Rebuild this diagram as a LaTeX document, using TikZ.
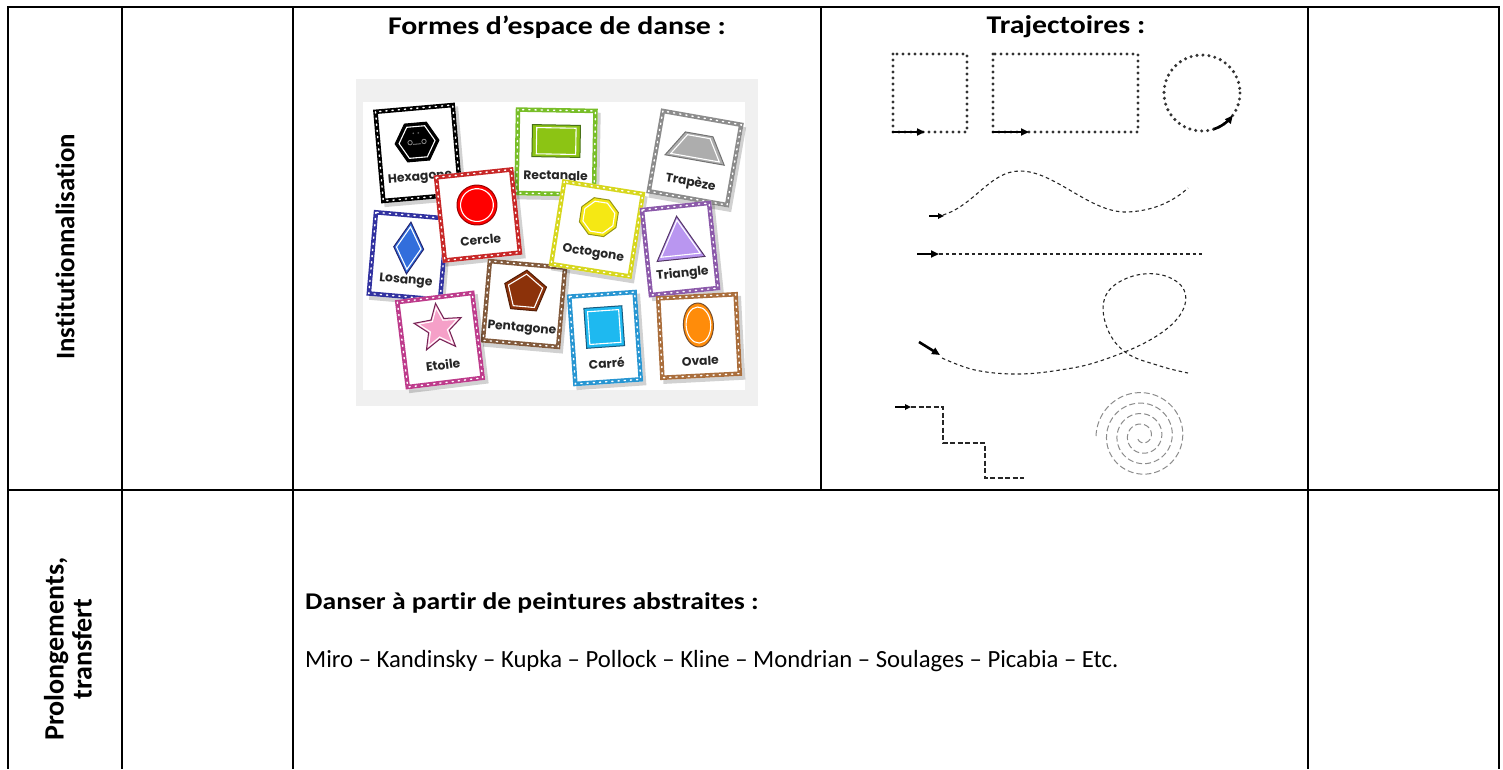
\documentclass[tikz,border=0pt]{standalone}
\usepackage{fontspec}
\setmainfont{Carlito}[Ligatures=NoCommon]
\newfontfamily\cardfont{Poppins}
\usetikzlibrary{arrows.meta,calc}
\definecolor{cgreen}{RGB}{120,190,40}
\definecolor{cgreenf}{RGB}{140,196,20}
\definecolor{cred}{RGB}{200,40,40}
\definecolor{cyell}{RGB}{215,215,30}
\definecolor{cyellf}{RGB}{245,232,20}
\definecolor{cnavy}{RGB}{50,50,160}
\definecolor{cbluef}{RGB}{50,110,220}
\definecolor{cpurp}{RGB}{140,90,170}
\definecolor{cpurpf}{RGB}{185,150,240}
\definecolor{cbrown}{RGB}{130,90,60}
\definecolor{cbrownf}{RGB}{140,50,10}
\definecolor{cmag}{RGB}{190,60,140}
\definecolor{cpinkf}{RGB}{245,160,200}
\definecolor{cblue}{RGB}{40,150,210}
\definecolor{ccyanf}{RGB}{30,185,240}
\definecolor{ctan}{RGB}{170,110,60}
\definecolor{corangef}{RGB}{255,140,10}
\tikzset{
  tbl/.style={line width=2pt, black},
  headtxt/.style={font=\bfseries\fontsize{25.5}{30}\selectfont, inner sep=0pt, xscale=1.17},
  sidetxt/.style={font=\bfseries\fontsize{26.8}{28}\selectfont, inner sep=0pt, rotate=90},
  bodytxt/.style={font=\fontsize{24.7}{30}\selectfont, inner sep=0pt, anchor=west},
  lbl/.style={font=\cardfont\bfseries\fontsize{12.3}{12}\selectfont, text=black!85, inner sep=0pt},
  dots/.style={line width=3.4pt, dash pattern=on 0pt off 6pt, line cap=round, black!80},
  dsh/.style={line width=1.1pt, dash pattern=on 3.5pt off 3pt, black!85},
  stairs/.style={line width=1.7pt, dash pattern=on 5pt off 2.5pt, black!85},
  spir/.style={line width=1pt, dash pattern=on 6pt off 3pt, black!45},
  arr/.style={line width=2.6pt, black, -{Triangle[length=8pt,width=7pt]}},
  sarr/.style={line width=2.2pt, black, -{Triangle[length=6pt,width=5.5pt]}},
}
% #1 x, #2 y, #3 angle, #4 frame colour, #5 half width, #6 half height, #7 label, #8 shape code
\newcommand{\card}[8]{%
  \begin{scope}[shift={(#1,#2)}, rotate=#3, transform shape]
    \fill[black, opacity=0.18] ({-#5+3},{-#6+4}) rectangle ({#5+3},{#6+4});
    \fill[white] ({-#5},{-#6}) rectangle ({#5},{#6});
    \draw[#4, line width=4.5pt] ({-#5+2.25},{-#6+2.25}) rectangle ({#5-2.25},{#6-2.25});
    \draw[white, line width=1.4pt, dash pattern=on 1.2pt off 5pt, line cap=round] ({-#5+2.25},{-#6+2.25}) rectangle ({#5-2.25},{#6-2.25});
    #8
    \node[lbl] at (0,25) {#7};
  \end{scope}}
% #1 dx, #2 dy, #3 fill, #4 outline, #5 path
\newcommand{\shp}[5]{%
  \begin{scope}[shift={(#1,#2)}]
    \filldraw[fill=#3, draw=#4, line width=1pt] #5;
    \draw[white, line width=1.1pt, scale=0.82] #5;
  \end{scope}}
\begin{document}
\begin{tikzpicture}[x=1pt,y=-1pt]
\useasboundingbox (0,0) rectangle (1503,769);
\fill[white] (0,0) rectangle (1503,769);

% ---------- table ----------
\draw[tbl] (7.5,7) -- (1499,7);
\draw[tbl] (7.5,490) -- (1499,490);
\draw[tbl] (7.5,6) -- (7.5,769);
\draw[tbl] (121.7,6) -- (121.7,769);
\draw[tbl] (292.7,6) -- (292.7,769);
\draw[tbl] (821,6) -- (821,490);
\draw[tbl] (1308,6) -- (1308,769);
\draw[tbl] (1499,6) -- (1499,769);

% ---------- texts ----------
\node[sidetxt] (inst) at (65,247) {Institutionnalisation};
\node[sidetxt, align=center, font=\bfseries\fontsize{28}{28}\selectfont] (prol) at (68,649) {Prolongements,\\transfert};
\node[headtxt] (formes) at (557,27) {Formes d’espace de danse :};
\node[headtxt] (traj) at (1066,27) {Trajectoires :};
\node[bodytxt, font=\bfseries\fontsize{24}{30}\selectfont, xscale=1.15] (danser) at (305,603) {Danser à partir de peintures abstraites :};
\node[bodytxt] (miro) at (305,661) {Miro – Kandinsky – Kupka – Pollock – Kline – Mondrian – Soulages – Picabia – Etc.};

% ---------- picture of cards ----------
\fill[black!6] (356,79) rectangle (758,406);
\fill[white] (363,102) rectangle (745,390);

\card{418}{153}{5}{black}{41}{47}{Hexagone}{%
  \shp{0}{-11}{black}{black}{(-22,0) -- (-11,-19) -- (11,-19) -- (22,0) -- (11,19) -- (-11,19) -- cycle}
  \fill[black!60] (-3,-20) circle (0.9) (2,-20) circle (0.9);
  \draw[black!45, line width=0.8pt] (-7,-11) circle (2.2) (7,-11) circle (2.2) (-4,-9) -- (4,-9);}
\card{556}{152}{-1}{cgreen}{41}{44}{Rectangle}{%
  \shp{0}{-11}{cgreenf}{cgreen!60!black}{(-24,-16) rectangle (24,16)}}
\card{695}{158}{-10}{black!45}{42}{43}{Trapèze}{%
  \shp{0}{-11}{black!32}{black!55}{(-30,13) -- (-14,-13) -- (14,-13) -- (30,13) -- cycle}}
\card{408}{256}{-5}{cnavy}{38}{43}{Losange}{%
  \shp{0}{-8}{cbluef}{cnavy!70!black}{(0,-26) -- (15,0) -- (0,26) -- (-15,0) -- cycle}}
\card{478}{215}{6}{cred}{40}{44}{Cercle}{%
  \shp{0}{-10}{red}{red!60!black}{(0,0) circle (20)}}
\card{524}{304}{-5}{cbrown}{40}{42}{Pentagone}{%
  \shp{0}{-12}{cbrownf}{cbrownf!60!black}{(0,-22) -- (20.92,-6.8) -- (12.93,17.8) -- (-12.93,17.8) -- (-20.92,-6.8) -- cycle}}
\card{597}{229}{-9}{cyell}{42}{44}{Octogone}{%
  \shp{0}{-12}{cyellf}{cyell!70!black}{(18.48,7.65) -- (7.65,18.48) -- (-7.65,18.48) -- (-18.48,7.65) -- (-18.48,-7.65) -- (-7.65,-18.48) -- (7.65,-18.48) -- (18.48,-7.65) -- cycle}}
\card{680}{249}{6}{cpurp}{36}{45}{Triangle}{%
  \shp{0}{-11}{cpurpf}{cpurp!60!black}{(0,-22) -- (24,21) -- (-24,21) -- cycle}}
\card{440}{340}{7}{cmag}{40}{45}{Etoile}{%
  \shp{0}{-12}{cpinkf}{cmag!60!black}{(0,-25) -- (6.47,-8.9) -- (23.78,-7.73) -- (10.46,3.4) -- (14.69,20.23) -- (0,11) -- (-14.69,20.23) -- (-10.46,3.4) -- (-23.78,-7.73) -- (-6.47,-8.9) -- cycle}}
\card{605}{338}{4}{cblue}{35}{46}{Carré}{%
  \shp{0}{-11}{ccyanf}{cblue!60!black}{(-19,-20) rectangle (19,20)}}
\card{699}{336}{3}{ctan}{41}{42}{Ovale}{%
  \shp{0}{-11}{corangef}{ctan!70!black}{(0,0) ellipse (15 and 22)}}

% ---------- trajectories ----------
\coordinate (sqA) at (893,54);
\coordinate (sqB) at (967,132);
\draw[dots] (sqA) rectangle (sqB);
\coordinate (sqS) at (892,132);
\coordinate (sqE) at (925,132);
\draw[arr] (sqS) -- (sqE);

\coordinate (reA) at (993,54);
\coordinate (reB) at (1138,132);
\draw[dots] (reA) rectangle (reB);
\coordinate (reS) at (992,132);
\coordinate (reE) at (1029,132);
\draw[arr] (reS) -- (reE);

\coordinate (ci) at (1202,93);
\draw[dots] (ci) circle (38);
\draw[arr] plot[domain=72:36, samples=10] ({1202+38*cos(\x)},{93+38*sin(\x)});

% wave
\coordinate (waS) at (943,215);
\draw[dsh] (waS) .. controls (975,205) and (990,171) .. (1020,171)
  .. controls (1055,171) and (1090,213) .. (1127,212)
  .. controls (1155,211) and (1175,200) .. (1188,188);
\coordinate (waA) at (929,216);
\coordinate (waB) at (944,216);
\draw[sarr] (waA) -- (waB);

% straight line
\coordinate (liA) at (917,254);
\coordinate (liB) at (939,254);
\coordinate (liC) at (1202,254);
\draw[arr] (liA) -- (liB);
\draw[dsh] (liB) -- (liC);

% loop
\coordinate (loA) at (919,342);
\coordinate (loB) at (940,355);
\draw[arr] (loA) -- (loB);
\draw[dsh] plot[smooth, tension=0.65] coordinates {(942,358) (975,370) (1017,374) (1060,370) (1100,361) (1150,340) (1180,315) (1184,290) (1162,275) (1130,277) (1106,295) (1106,325) (1125,352) (1160,366) (1188,373)};

% stairs
\coordinate (stA) at (895,407);
\coordinate (stB) at (911,407);
\draw[sarr] (stA) -- (stB);
\draw[stairs] (stB) -- (943,407) -- (943,443) -- (985,443) -- (985,478) -- (1024,478);

% spiral
\draw[spir] plot[domain=180:1600, samples=400] ({1142+(46-(\x-180)/360*10.5)*cos(\x)},{436+(46-(\x-180)/360*10.5)*sin(\x)});
\end{tikzpicture}
\end{document}
